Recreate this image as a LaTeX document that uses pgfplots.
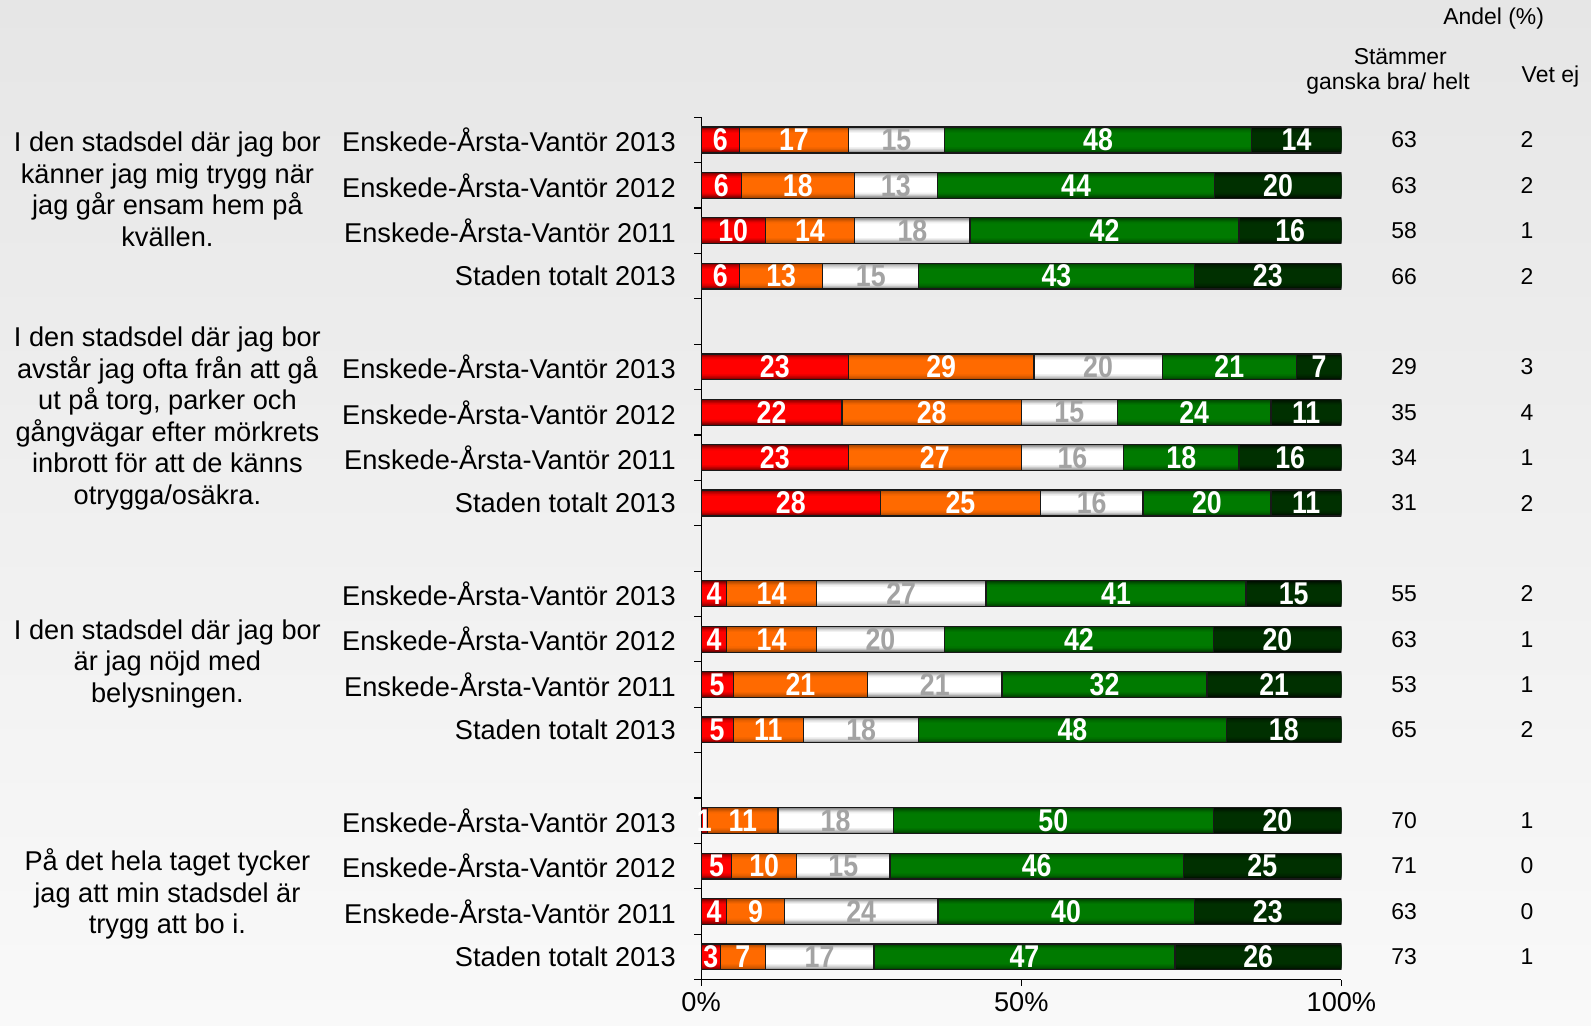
\documentclass[border=0pt]{standalone}
\usepackage{pgfplots}
\pgfplotsset{compat=1.18}
\usepackage{pgfplotstable}
\usepackage{graphicx}
\usepackage{fontspec}
\setmainfont{Liberation Sans}

\definecolor{bgtop}{HTML}{E6E6E6}
\definecolor{bgbot}{HTML}{F9F9F9}
\definecolor{cRedM}{HTML}{FF0000}
\definecolor{cRedE}{HTML}{700000}
\definecolor{cOrM}{HTML}{FF6A00}
\definecolor{cOrE}{HTML}{A84600}
\definecolor{cWhM}{HTML}{FFFFFF}
\definecolor{cWhE}{HTML}{858585}
\definecolor{cGrM}{HTML}{007A00}
\definecolor{cGrE}{HTML}{003E00}
\definecolor{cDgM}{HTML}{003000}
\definecolor{cDgE}{HTML}{000E00}
\definecolor{lblgray}{HTML}{A3A3A3}

% a..e: segment widths (%), la..le: printed labels, s: Stämmer ganska bra/helt, v: Vet ej
\pgfplotstableread{
y a b c d e la lb lc ld le s v
18 6 17 15 48 14 6 17 15 48 14 63 2
17 6.3 17.6 13.0 43.3 19.8 6 18 13 44 20 63 2
16 10 14 18 42 16 10 14 18 42 16 58 1
15 6 13 15 43 23 6 13 15 43 23 66 2
13 23 29 20 21 7 23 29 20 21 7 29 3
12 22 28 15 24 11 22 28 15 24 11 35 4
11 23 27 16 18 16 23 27 16 18 16 34 1
10 28 25 16 20 11 28 25 16 20 11 31 2
8 4 14 26.5 40.6 14.9 4 14 27 41 15 55 2
7 4 14 20 42 20 4 14 20 42 20 63 1
6 5 21 21 32 21 5 21 21 32 21 53 1
5 5 11 18 48 18 5 11 18 48 18 65 2
3 1 11 18 50 20 1 11 18 50 20 70 1
2 4.8 10.1 14.6 45.8 24.7 5 10 15 46 25 71 0
1 4 9 24 40 23 4 9 24 40 23 63 0
0 3 7 17 47 26 3 7 17 47 26 73 1
}\data

\newcommand{\lblfont}{\fontsize{13.4}{15.5}\selectfont}
\newcommand{\smfont}{\fontsize{11.3}{13}\selectfont}
\newcommand{\barlbl}{\fontsize{15.5}{16}\selectfont\bfseries}

\pgfplotsset{
  common/.style={
    at={(345.5pt,22.8pt)}, anchor=south west,
    scale only axis, width=315.5pt, height=424.9pt,
    xmin=0, xmax=100, ymin=-0.5, ymax=18.5,
  },
}

% one shading layer of the stacked bars: #1 bar width, #2 percent of centre colour
\newcommand{\barlayer}[2]{%
\begin{axis}[common, hide axis, xbar stacked, bar width=#1]
\addplot[draw=none, fill=cRedM!#2!cRedE] table[x=a,y=y]{\data};
\addplot[draw=none, fill=cOrM!#2!cOrE] table[x=b,y=y]{\data};
\addplot[draw=none, fill=cWhM!#2!cWhE] table[x=c,y=y]{\data};
\addplot[draw=none, fill=cGrM!#2!cGrE] table[x=d,y=y]{\data};
\addplot[draw=none, fill=cDgM!#2!cDgE] table[x=e,y=y]{\data};
\end{axis}}

\begin{document}
\begin{tikzpicture}
\useasboundingbox (0,0) rectangle (784pt,505.5pt);
\shade[top color=bgtop, bottom color=bgbot] (0,0) rectangle (784pt,505.5pt);

\barlayer{0.57}{0}
\barlayer{0.53}{25}
\barlayer{0.48}{50}
\barlayer{0.43}{72}
\barlayer{0.38}{88}
\barlayer{0.32}{100}

\begin{axis}[
  common,
  xbar stacked, bar width=0.57,
  axis lines*=left,
  axis line style={black, line width=0.6pt},
  xtick={0,50,100}, xticklabels={0\%,50\%,100\%},
  xticklabel style={font=\lblfont},
  ytick={0,1,2,3,5,6,7,8,10,11,12,13,15,16,17,18},
  yticklabels={Staden totalt 2013,Enskede-Årsta-Vantör 2011,Enskede-Årsta-Vantör 2012,Enskede-Årsta-Vantör 2013,
               Staden totalt 2013,Enskede-Årsta-Vantör 2011,Enskede-Årsta-Vantör 2012,Enskede-Årsta-Vantör 2013,
               Staden totalt 2013,Enskede-Årsta-Vantör 2011,Enskede-Årsta-Vantör 2012,Enskede-Årsta-Vantör 2013,
               Staden totalt 2013,Enskede-Årsta-Vantör 2011,Enskede-Årsta-Vantör 2012,Enskede-Årsta-Vantör 2013},
  yticklabel style={font=\lblfont, xshift=-6pt},
  minor ytick={-0.5,0.5,...,18.5},
  tick align=outside,
  major tick length=3pt, minor tick length=3.5pt,
  major y tick style={draw=none},
  minor y tick style={draw=black, line width=0.6pt},
  major x tick style={black, line width=0.6pt},
  point meta=explicit symbolic,
  nodes near coords={\scalebox{0.85}[1]{\pgfplotspointmeta}},
  every node near coord/.append style={anchor=center, font=\barlbl, text=white, inner sep=0pt},
]
\addplot[draw=black!90, line width=0.6pt, fill=none] table[x=a,y=y,meta=la]{\data};
\addplot[draw=black!90, line width=0.6pt, fill=none] table[x=b,y=y,meta=lb]{\data};
\addplot[draw=black!90, line width=0.6pt, fill=none,
   every node near coord/.append style={text=lblgray}] table[x=c,y=y,meta=lc]{\data};
\addplot[draw=black!90, line width=0.6pt, fill=none] table[x=d,y=y,meta=ld]{\data};
\addplot[draw=black!90, line width=0.6pt, fill=none] table[x=e,y=y,meta=le]{\data};
\end{axis}

\begin{axis}[
  common,
  hide axis, clip=false,
  nodes near coords, point meta=explicit,
  /pgf/number format/assume math mode=true,
  every node near coord/.append style={anchor=center, font=\smfont, text=black},
]
\addplot[draw=none, mark=none] table[x expr=109.8, y=y, meta=s]{\data};
\addplot[draw=none, mark=none] table[x expr=129.0, y=y, meta=v]{\data};
\end{axis}

% headers
\node[font=\smfont] at (736pt,496.5pt) {Andel (\%)};
\node[font=\smfont] at (690pt,477.5pt) {Stämmer};
\node[font=\smfont] at (684pt,464.5pt) {ganska bra/ helt};
\node[font=\smfont] at (764pt,468pt) {Vet ej};

% questions
\node[font=\lblfont, align=center, inner sep=0pt] at (82.5pt,412.25pt)
  {I den stadsdel där jag bor\\känner jag mig trygg när\\jag går ensam hem på\\kvällen.};
\node[font=\lblfont, align=center, inner sep=0pt] at (82.5pt,299.25pt)
  {I den stadsdel där jag bor\\avstår jag ofta från att gå\\ut på torg, parker och\\gångvägar efter mörkrets\\inbrott för att de känns\\otrygga/osäkra.};
\node[font=\lblfont, align=center, inner sep=0pt] at (82.5pt,178.5pt)
  {I den stadsdel där jag bor\\är jag nöjd med\\belysningen.};
\node[font=\lblfont, align=center, inner sep=0pt] at (82.5pt,65pt)
  {På det hela taget tycker\\jag att min stadsdel är\\trygg att bo i.};
\end{tikzpicture}
\end{document}
